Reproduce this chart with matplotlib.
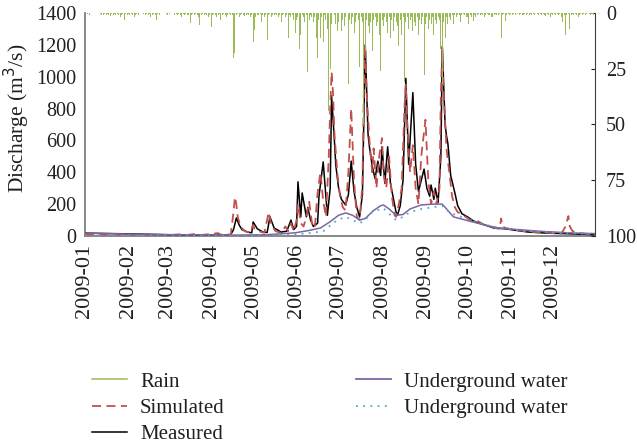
import matplotlib
matplotlib.use("Agg")
import matplotlib.pyplot as plt
import matplotlib.dates as mdates
from matplotlib.lines import Line2D
import pandas as pd

plt.rcParams['font.family'] = ['Liberation Serif', 'DejaVu Serif']

# daily rain (mm), one list per month of 2009
rain_jan = [1, 0, 0.5, 1, 0, 0, 0, 0, 0, 0, 0, 0.5, 1, 1, 0.5, 1, 0.5, 1, 1.5, 0.5, 1, 0.5, 1, 0.5, 1, 2, 1, 0.5, 3, 0.5, 1]
rain_feb = [0.5, 1, 0.5, 1, 2, 1, 0.5, 1, 0, 0, 0, 0.5, 1, 0.5, 1, 0.5, 2, 1, 0.5, 1, 3, 0.5, 1, 0, 0, 0, 0, 0.5]
rain_mar = [1, 0.5, 0, 0, 0, 1, 0.5, 1, 0.5, 1, 2, 0.5, 1, 0.5, 1, 1, 4.5, 1, 0.5, 1, 0.5, 1, 2, 5.6, 1, 0.5, 1, 0.5, 1, 2, 1]
rain_apr = [6.5, 1, 0.5, 1, 2, 1, 0.5, 3, 1, 0.5, 1, 2, 1, 0.5, 1, 1, 20, 18, 1, 0.5, 2, 1, 0.5, 1, 1.5, 1, 0.5, 1, 2, 1]
rain_may = [13, 7.5, 2, 1, 1, 0.5, 4, 1, 2, 1, 12, 1, 0.5, 2, 1, 1, 0.5, 1, 2, 1, 4, 1, 0.5, 2, 1, 11, 1, 2, 1, 3, 9]
rain_jun = [3, 2, 16, 10, 1, 2, 4, 1, 26.5, 3, 1, 2, 4, 2, 11, 20, 3, 11, 2, 13, 1, 3, 7, 44, 25, 5, 5, 1, 5, 8]
rain_jul = [4, 2, 8, 3, 6, 2, 1, 32, 3, 5, 2, 9, 4, 1, 3, 24, 2, 4, 50, 17, 3, 6, 9, 4, 17, 3, 2, 6, 4, 10, 26]
rain_aug = [3, 6, 2, 4, 9, 2, 11, 3, 8, 2, 4, 6, 15, 3, 10, 2, 31, 4, 2, 7, 3, 2, 8, 4, 6, 2, 10, 3, 5, 2, 28]
rain_sep = [5, 2, 7, 3, 5, 2, 10, 3, 5, 2, 3, 16, 32, 4, 11, 2, 5, 2, 3, 1, 5, 1, 2, 1, 1, 4, 1, 0.5, 1, 2]
rain_oct = [2, 5, 1, 2, 3.5, 1, 2, 1, 0.5, 1, 0.5, 1, 2, 1, 0.5, 1, 1, 2, 2, 1, 0.5, 1, 1, 0.5, 11, 1, 0.5, 3.5, 1, 0.5, 1]
rain_nov = [0.5, 1, 0.5, 1, 0, 0.5, 1, 0.5, 1, 1, 0.5, 1, 0.5, 1, 0.5, 1, 0.5, 1, 0, 0.5, 1, 0.5, 1, 0.5, 1, 1.5, 0.5, 1, 2, 0.5]
rain_dec = [1, 0.5, 1, 0.5, 1, 0.5, 2, 4, 1, 10, 1, 0.5, 7, 1, 0.5, 1, 0.5, 1, 2, 1, 0.5, 1, 0.5, 1, 0.5, 1, 0.5, 1, 0.5, 1, 0.5]

# discharge (m3/s), read at day-of-year points
meas_day = [0, 20, 40, 60, 80, 100, 104, 106, 108, 110, 112, 116, 119, 120, 123, 127, 130, 132, 135,
            140, 144, 147, 149, 151, 152, 154, 155, 158, 159, 161, 163, 166, 167, 170, 173, 175, 176,
            178, 179, 181, 183, 186, 188, 190, 192, 194, 196, 198, 200, 202, 203, 205, 207, 209, 211,
            212, 214, 216, 218, 220, 222, 223, 225, 227, 229, 231, 234, 236, 238, 240, 242, 244, 246,
            247, 249, 250, 252, 254, 255, 257, 258, 259, 261, 264, 266, 269, 273, 278, 285, 292, 300,
            308, 316, 330, 345, 364]
meas_q = [18, 15, 12, 8, 6, 5, 8, 40, 113, 70, 40, 25, 20, 88, 45, 25, 22, 120, 50,
          25, 30, 100, 40, 60, 340, 120, 270, 120, 180, 100, 60, 80, 250, 465, 130, 300, 880,
          600, 445, 300, 230, 195, 260, 470, 280, 180, 120, 260, 1200, 640, 560, 440, 360, 470, 380,
          560, 330, 560, 330, 240, 150, 130, 190, 350, 990, 450, 900, 450, 280, 350, 420, 300, 250,
          320, 230, 300, 210, 500, 1190, 700, 630, 580, 380, 270, 190, 140, 120, 90, 70, 50, 45,
          35, 25, 18, 14, 8]

sim_day = [0, 20, 40, 60, 70, 72, 80, 82, 95, 97, 104, 106, 107, 108, 109, 111, 114, 118, 120, 121,
           124, 128, 130, 131, 133, 136, 140, 143, 145, 147, 149, 151, 152, 154, 156, 158, 160, 162,
           164, 166, 168, 170, 172, 174, 175, 176, 177, 178, 180, 182, 184, 186, 188, 190, 192, 194,
           196, 198, 199, 200, 201, 203, 205, 206, 208, 210, 212, 213, 215, 217, 219, 221, 222, 224,
           226, 228, 229, 230, 232, 234, 236, 238, 240, 243, 245, 247, 249, 251, 253, 254, 255, 256,
           258, 260, 262, 264, 266, 270, 275, 280, 285, 290, 296, 297, 298, 300, 310, 320, 330, 340,
           343, 345, 346, 348, 352, 358, 364]
sim_q = [10, 8, 7, 6, 12, 5, 15, 5, 18, 8, 10, 150, 245, 200, 120, 60, 30, 20, 70, 40,
         30, 20, 100, 150, 70, 30, 20, 60, 30, 80, 30, 100, 200, 80, 60, 120, 215, 80,
         50, 270, 400, 220, 120, 500, 800, 1030, 900, 650, 400, 250, 180, 160, 400, 800, 350, 120,
         100, 320, 900, 1200, 900, 600, 400, 550, 300, 500, 615, 400, 300, 500, 250, 130, 120, 200,
         300, 800, 950, 700, 400, 570, 300, 200, 500, 730, 350, 200, 280, 200, 300, 900, 1180, 900,
         550, 400, 250, 180, 150, 130, 100, 95, 70, 55, 45, 110, 60, 50, 35, 25, 20, 15,
         60, 125, 60, 30, 20, 12, 6]

ug_day = [0, 30, 60, 100, 130, 150, 160, 168, 175, 181, 186, 191, 196, 200, 206, 211, 213, 217, 222,
          227, 232, 240, 248, 255, 259, 263, 276, 285, 295, 324, 345, 364]
ug_q = [18, 12, 8, 5, 8, 20, 35, 50, 90, 130, 145, 130, 100, 110, 160, 190, 195, 170, 130,
        135, 170, 195, 200, 200, 160, 120, 90, 70, 50, 30, 20, 15]

ug2_day = [0, 60, 100, 130, 150, 160, 170, 180, 186, 191, 196, 200, 205, 213, 217, 222, 227, 232,
           240, 248, 255, 260, 265, 276, 290, 310, 340, 364]
ug2_q = [3, 2, 2, 4, 10, 18, 30, 100, 120, 100, 80, 100, 150, 175, 140, 100, 120, 150,
         170, 180, 190, 150, 130, 100, 60, 35, 20, 12]

month_fmt = '%Y-%m'


def to_dates(days):
    return pd.Timestamp('2009-01-01') + pd.to_timedelta(days, unit='D')


rain = rain_jan + rain_feb + rain_mar + rain_apr + rain_may + rain_jun + rain_jul + rain_aug \
    + rain_sep + rain_oct + rain_nov + rain_dec
rain_dates = pd.date_range('2009-01-01', periods=len(rain), freq='D')

fig = plt.figure(figsize=(6.37, 4.45), dpi=100)
ax = fig.add_axes([85 / 637, 209 / 445, 510 / 637, 223 / 445])

ax.plot(to_dates(meas_day), meas_q, color='black', lw=1.1, zorder=3)
ax.plot(to_dates(sim_day), sim_q, color='#C0504D', lw=1.3, ls=(0, (5, 3)), zorder=4)
ax.plot(to_dates(ug_day), ug_q, color='#8064A2', lw=1.1, zorder=5)
ax.plot(to_dates(ug2_day), ug2_q, color='#4BACC6', lw=1.3, ls=(0, (1, 3)), zorder=5)

ax.set_ylim(0, 1400)
ax.set_yticks(range(0, 1401, 200))
ax.set_xlim(pd.Timestamp('2009-01-01'), pd.Timestamp('2009-12-31'))
ax.xaxis.set_major_locator(mdates.MonthLocator())
ax.xaxis.set_major_formatter(mdates.DateFormatter(month_fmt))
ax.tick_params(axis='x', rotation=90, labelsize=16, length=0, pad=6, colors='#231F20')
ax.tick_params(axis='y', labelsize=14.5, length=0, pad=6, colors='#231F20')
ax.set_ylabel('Discharge (m$^3$/s)', fontsize=15.5, color='#231F20')
ax.yaxis.set_label_coords(-0.104, 0.53)
for s in ['top', 'right']:
    ax.spines[s].set_visible(False)
ax.spines['left'].set_color('#7F7F7F')
ax.spines['bottom'].set_color('#7F7F7F')
ax.spines['left'].set_linewidth(1.3)
ax.spines['bottom'].set_linewidth(1.3)

# rain hangs from the top on an inverted right axis
ax2 = ax.twinx()
ax2.bar(rain_dates, rain, width=0.7, color='#9BBB59', zorder=2)
ax2.set_ylim(100, 0)
ax2.set_yticks([0, 25, 50, 75, 100])
ax2.tick_params(axis='y', labelsize=14.5, direction='in', length=3, pad=8, colors='#231F20')
ax2.spines['top'].set_visible(False)
ax2.spines['left'].set_visible(False)
ax2.spines['bottom'].set_visible(False)
ax2.spines['right'].set_color('#404040')

handles = [
    Line2D([], [], color='#9BBB59', lw=1.1),
    Line2D([], [], color='#C0504D', lw=1.3, ls=(0, (5, 3))),
    Line2D([], [], color='black', lw=1.1),
    Line2D([], [], color='#8064A2', lw=1.3),
    Line2D([], [], color='#4BACC6', lw=1.3, ls=(0, (1, 3))),
]
labels = ['Rain', 'Simulated', 'Measured', 'Underground water', 'Underground water']
fig.legend(handles, labels, loc='upper left', bbox_to_anchor=(92 / 637, 1 - 372 / 445),
           ncol=2, frameon=False, fontsize=15, borderpad=0, borderaxespad=0,
           handlelength=1.7, handletextpad=0.6, columnspacing=6.3, labelspacing=0.32,
           labelcolor='#231F20')

fig.savefig('out.png', dpi=100)
